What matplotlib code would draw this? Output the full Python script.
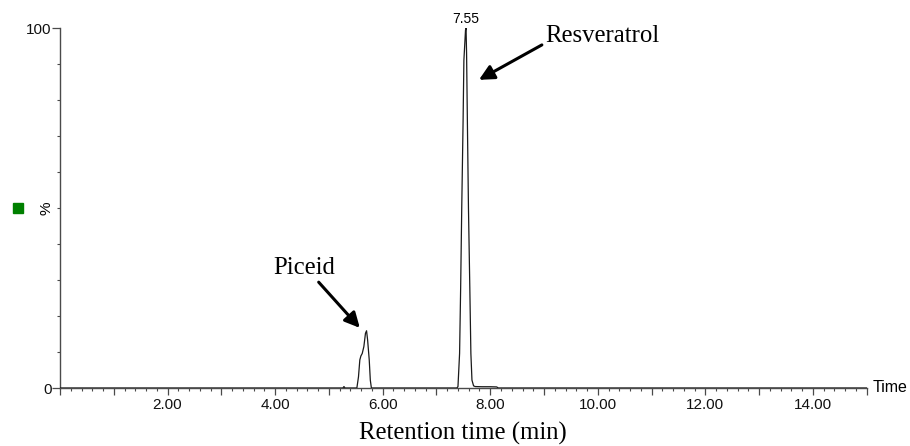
import matplotlib
matplotlib.use("Agg")
import matplotlib.pyplot as plt
from matplotlib.patches import Rectangle
from matplotlib.ticker import FixedLocator, MultipleLocator, FuncFormatter

# ---- data ----
time_min = [0.00, 5.20, 5.26, 5.28, 5.30, 5.36, 5.52, 5.55, 5.575, 5.595, 5.62,
            5.65, 5.68, 5.70, 5.72, 5.75, 5.77, 5.79, 5.85, 7.38, 7.40, 7.43,
            7.45, 7.47, 7.495, 7.51, 7.54, 7.55, 7.56, 7.575, 7.595, 7.62,
            7.64, 7.66, 7.69, 7.72, 7.85, 8.00, 8.12, 8.15, 15.00]
intensity_pct = [0.0, 0.0, 0.0, 0.4, 0.0, 0.0, 0.0, 3.1, 7.8, 8.9, 9.6,
                 11.5, 15.2, 15.9, 13.3, 7.8, 2.2, 0.0, 0.0, 0.0, 0.4, 9.6,
                 28.0, 50.0, 74.0, 91.0, 99.4, 100.0, 93.0, 74.0, 50.0, 28.0,
                 9.6, 2.2, 0.6, 0.4, 0.35, 0.35, 0.3, 0.0, 0.0]

peak_rt = [7.55]
peak_rt_labels = ["7.55"]

compound_names = ["Resveratrol", "Piceid"]
arrow_tips = [(7.79, 85.6), (5.575, 16.7)]
arrow_tails = [(8.96, 95.3), (4.81, 29.4)]
name_pos = [(9.03, 96.0), (4.535, 31.6)]
name_ha = ["left", "center"]

x_major = [2, 4, 6, 8, 10, 12, 14]
x_labels = ["2.00", "4.00", "6.00", "8.00", "10.00", "12.00", "14.00"]

# ---- figure ----
W, H = 910, 446
fig = plt.figure(figsize=(W / 100, H / 100), dpi=100)
ax = fig.add_axes([60 / W, 1 - 388 / H, (866.7 - 60) / W, (388 - 28) / H])

axis_col = "#4a4a4a"
ax.plot(time_min, intensity_pct, color="#1a1a1a", lw=0.9, zorder=3)

ax.set_xlim(0, 15)
ax.set_ylim(0, 100)
for s in ["top", "right"]:
    ax.spines[s].set_visible(False)
for s in ["left", "bottom"]:
    ax.spines[s].set_color(axis_col)
    ax.spines[s].set_linewidth(1.0)

# x ticks
ax.xaxis.set_major_locator(MultipleLocator(1))
ax.xaxis.set_minor_locator(MultipleLocator(0.2))
lab_map = dict(zip(x_major, x_labels))
ax.xaxis.set_major_formatter(FuncFormatter(lambda v, p: lab_map.get(int(round(v)), "") if abs(v - round(v)) < 1e-6 else ""))
ax.tick_params(axis="x", which="major", length=5.0, width=0.9, color=axis_col,
               pad=2, labelsize=11, labelcolor="#111111")
ax.tick_params(axis="x", which="minor", length=2.4, width=0.8, color=axis_col)

# y ticks
ax.yaxis.set_major_locator(FixedLocator([0, 100]))
ax.yaxis.set_minor_locator(FixedLocator(list(range(10, 100, 10))))
ax.yaxis.set_major_formatter(FuncFormatter(lambda v, p: "%d" % v))
ax.tick_params(axis="y", which="major", length=5.6, width=0.9, color=axis_col,
               pad=0.5, labelsize=11, labelcolor="#111111")
ax.tick_params(axis="y", which="minor", length=2.3, width=0.8, color=axis_col)

sans = ["Liberation Sans", "DejaVu Sans"]
serif = ["Liberation Serif", "DejaVu Serif"]

for lab in ax.get_xticklabels() + ax.get_yticklabels():
    lab.set_family(sans)

# peak retention time labels
for rt, lab in zip(peak_rt, peak_rt_labels):
    ax.annotate(lab, xy=(rt, 100), xytext=(0, 1.5), textcoords="offset points",
                ha="center", va="bottom", fontsize=10, family=sans,
                annotation_clip=False)

# compound arrows and names
for name, tip, tail, pos, ha in zip(compound_names, arrow_tips, arrow_tails, name_pos, name_ha):
    ax.annotate("", xy=tip, xytext=tail,
                arrowprops=dict(arrowstyle="-|>,head_length=0.9,head_width=0.45",
                                lw=2.2, color="black", shrinkA=0, shrinkB=0),
                annotation_clip=False)
    ax.text(pos[0], pos[1], name, ha=ha, va="baseline", fontsize=17.8,
            family=serif, color="black", clip_on=False)

# axis titles
ax.annotate("Time", xy=(1, 0), xycoords="axes fraction", xytext=(4.5, 0),
            textcoords="offset points", ha="left", va="center", fontsize=11.5,
            family=sans, annotation_clip=False)
ax.annotate("%", xy=(0, 0.5), xycoords="axes fraction", xytext=(-10, 0),
            textcoords="offset points", ha="center", va="center", rotation=90,
            fontsize=11, family=sans, annotation_clip=False)
fig.text(463 / W, 1 - 433 / H, "Retention time (min)", ha="center", va="center",
         fontsize=17.8, family=serif)

fig.add_artist(Rectangle((13 / W, 1 - 213 / H), 9.5 / W, 10 / H,
                         transform=fig.transFigure, color="#008000"))

fig.savefig("out.png", dpi=100)
